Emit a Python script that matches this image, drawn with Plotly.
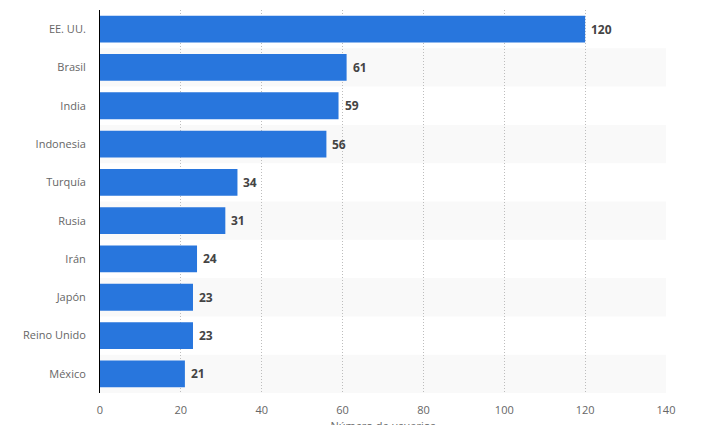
import plotly.graph_objects as go

countries = ["EE. UU.", "Brasil", "India", "Indonesia", "Turquía", "Rusia", "Irán", "Japón", "Reino Unido", "México"]
users = [120, 61, 59, 56, 34, 31, 24, 23, 23, 21]
x_ticks = [0, 20, 40, 60, 80, 100, 120, 140]
x_title = "Número de usuarios"

FONT = "Open Sans"
BAR = "#2876DD"

fig = go.Figure()
fig.add_trace(go.Bar(
    y=countries, x=users, orientation="h",
    marker=dict(color=BAR, line=dict(width=0)),
    width=0.7, hoverinfo="skip",
))

# alternating row bands
for i, c in enumerate(countries):
    if i % 2 == 1:
        fig.add_shape(type="rect", xref="x domain", yref="y",
                      x0=0, x1=1, y0=i - 0.5, y1=i + 0.5,
                      fillcolor="#f9f9f9", line=dict(width=0), layer="below")

# value labels
for c, v in zip(countries, users):
    fig.add_annotation(x=v, y=c, text=f"<b>{v}</b>", showarrow=False,
                       xanchor="left", xshift=4,
                       font=dict(family=FONT, size=12, color="#444444"))

fig.update_layout(
    width=706, height=425,
    margin=dict(l=92, r=48, t=2, b=40),
    paper_bgcolor="white", plot_bgcolor="white",
    showlegend=False, bargap=0.3,
    font=dict(family=FONT, size=11, color="#666666"),
)
fig.update_xaxes(
    range=[0, 140], tickvals=x_ticks, showgrid=True,
    gridcolor="#bdbdbd", griddash="1px,2px", gridwidth=1,
    zeroline=False, showline=False,
    ticks="outside", ticklen=7, tickcolor="rgba(0,0,0,0)",
    tickfont=dict(family=FONT, size=11, color="#666666"),
    title=dict(text=x_title, standoff=8, font=dict(family=FONT, size=11, color="#666666")),
    automargin=False, fixedrange=True,
)
fig.update_yaxes(
    categoryorder="array", categoryarray=countries, autorange="reversed",
    showline=True, linecolor="#000000", linewidth=1,
    showgrid=False, zeroline=False, ticks="", ticklabelstandoff=11,
    tickfont=dict(family=FONT, size=11, color="#666666"),
    automargin=False, fixedrange=True,
)

fig.write_html("out.html", config={"displayModeBar": False})
